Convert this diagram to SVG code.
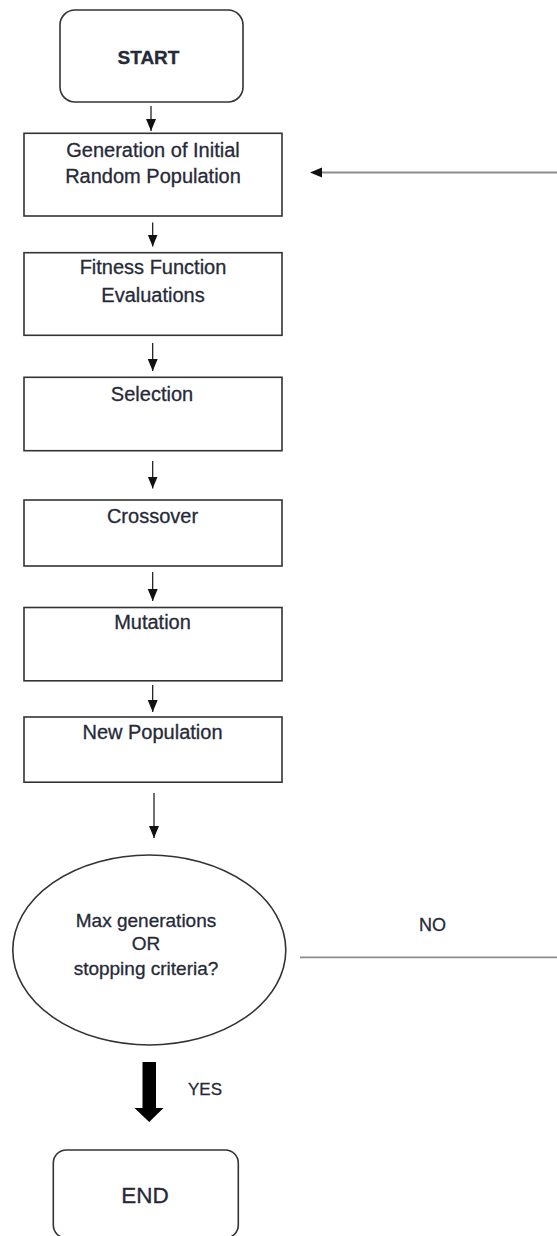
<svg xmlns="http://www.w3.org/2000/svg" width="557" height="1236" viewBox="0 0 557 1236">
<defs>
<style>
.box{fill:#fff;stroke:#333;stroke-width:1.6}
.t{font-family:"Liberation Sans",Arial,sans-serif;fill:#262a38;stroke:#262a38;stroke-width:0.3;text-anchor:middle}
.bt{font-size:20px}
.ct{font-size:19px}
.ar{stroke:#111;stroke-width:1.2;fill:none}
.gl{stroke:#8c8c8c;stroke-width:1.8;fill:none}
</style>
<marker id="ah" markerUnits="userSpaceOnUse" markerWidth="12" markerHeight="12" viewBox="0 0 12 10" refX="12" refY="5" orient="auto">
<path d="M0,0 L12,5 L0,10 Z" fill="#111"/>
</marker>
</defs>
<rect width="557" height="1236" fill="#fff"/>
<g id="connectors">
<line class="ar" x1="151" y1="106" x2="151" y2="131" marker-end="url(#ah)"/>
<line class="ar" x1="152.7" y1="222.5" x2="152.7" y2="246.5" marker-end="url(#ah)"/>
<line class="ar" x1="152.7" y1="343" x2="152.7" y2="371" marker-end="url(#ah)"/>
<line class="ar" x1="152.7" y1="461" x2="152.7" y2="488.5" marker-end="url(#ah)"/>
<line class="ar" x1="152.7" y1="572" x2="152.7" y2="601" marker-end="url(#ah)"/>
<line class="ar" x1="152.7" y1="685" x2="152.7" y2="712" marker-end="url(#ah)"/>
<line class="ar" x1="154" y1="793" x2="154" y2="838" marker-end="url(#ah)"/>
<line class="gl" x1="557" y1="172.5" x2="320" y2="172.5"/>
<path d="M310,172.5 L322,167.5 L322,177.5 Z" fill="#111"/>
<line class="gl" x1="300" y1="957.3" x2="557" y2="957.3"/>
<polygon points="142.5,1062 156,1062 156,1108 163.5,1108 149.2,1122 134.5,1108 142.5,1108" fill="#000"/>
<text class="t" x="432.5" y="930.5" font-size="18">NO</text>
<text class="t" x="205" y="1095" font-size="17">YES</text>
</g>
<g id="start">
<rect class="box" x="60" y="10" width="183" height="92" rx="15"/>
<text class="t" x="148.5" y="64" font-size="19" font-weight="bold">START</text>
</g>
<g id="init">
<rect class="box" x="24" y="133.3" width="258" height="82.7"/>
<text class="t bt" x="153" y="156.5">Generation of Initial</text>
<text class="t bt" x="153" y="183">Random Population</text>
</g>
<g id="fitness">
<rect class="box" x="24" y="252.7" width="258" height="82.6"/>
<text class="t bt" x="153" y="274">Fitness Function</text>
<text class="t bt" x="153" y="301.5">Evaluations</text>
</g>
<g id="selection">
<rect class="box" x="24" y="377.3" width="258" height="73.4"/>
<text class="t bt" x="152" y="400.7">Selection</text>
</g>
<g id="crossover">
<rect class="box" x="24" y="500" width="258" height="66"/>
<text class="t bt" x="152.5" y="523.3">Crossover</text>
</g>
<g id="mutation">
<rect class="box" x="24" y="607.5" width="258" height="73.3"/>
<text class="t bt" x="152.5" y="629.3">Mutation</text>
</g>
<g id="newpop">
<rect class="box" x="24" y="717" width="258" height="65.2"/>
<text class="t bt" x="152.5" y="739">New Population</text>
</g>
<g id="decision">
<ellipse class="box" cx="149.3" cy="950" rx="136.5" ry="95"/>
<text class="t ct" x="146" y="926.5">Max generations</text>
<text class="t ct" x="146" y="950">OR</text>
<text class="t ct" x="146" y="975">stopping criteria?</text>
</g>
<g id="end">
<rect class="box" x="53.3" y="1150" width="185" height="88" rx="13"/>
<text class="t" x="145" y="1203.3" font-size="22.5">END</text>
</g>
</svg>
